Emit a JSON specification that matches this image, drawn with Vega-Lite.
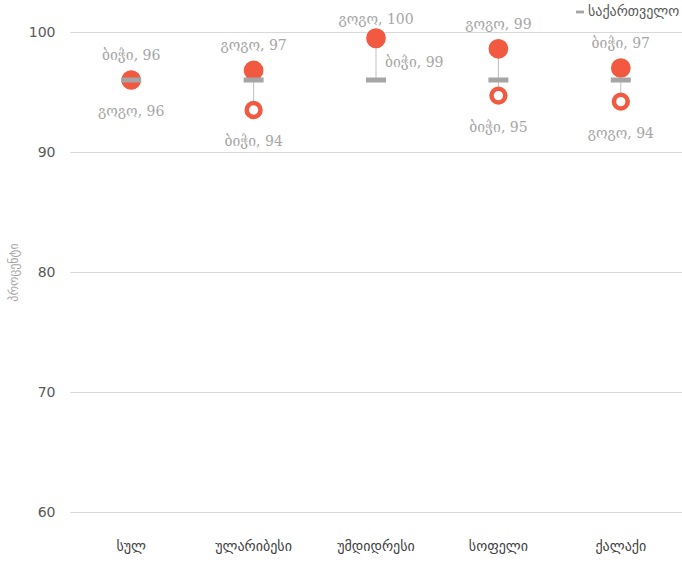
{
  "$schema": "https://vega.github.io/schema/vega-lite/v6.json",
  "autosize": {"type": "none"},
  "padding": {"left": 70, "top": 32, "right": 0, "bottom": 50},
  "width": 612,
  "height": 480,
  "background": "white",
  "config": {"view": {"stroke": null}},
  "data": {
    "values": [
      {"category": "სულ", "group": "ბიჭი", "role": "high", "value": 96},
      {"category": "სულ", "group": "გოგო", "role": "low", "value": 96},
      {"category": "სულ", "group": "საქართველო", "role": "national", "value": 96},
      {"category": "ულარიბესი", "group": "გოგო", "role": "high", "value": 96.8},
      {"category": "ულარიბესი", "group": "ბიჭი", "role": "low", "value": 93.5},
      {"category": "ულარიბესი", "group": "საქართველო", "role": "national", "value": 96},
      {"category": "უმდიდრესი", "group": "გოგო", "role": "high", "value": 99.5},
      {"category": "უმდიდრესი", "group": "ბიჭი", "role": "low", "value": 99.4},
      {"category": "უმდიდრესი", "group": "საქართველო", "role": "national", "value": 96},
      {"category": "სოფელი", "group": "გოგო", "role": "high", "value": 98.6},
      {"category": "სოფელი", "group": "ბიჭი", "role": "low", "value": 94.7},
      {"category": "სოფელი", "group": "საქართველო", "role": "national", "value": 96},
      {"category": "ქალაქი", "group": "ბიჭი", "role": "high", "value": 97},
      {"category": "ქალაქი", "group": "გოგო", "role": "low", "value": 94.2},
      {"category": "ქალაქი", "group": "საქართველო", "role": "national", "value": 96}
    ]
  },
  "transform": [
    {"calculate": "datum.group + ', ' + round(datum.value)", "as": "label"}
  ],
  "encoding": {
    "x": {
      "field": "category", "type": "nominal", "sort": null,
      "scale": {"paddingInner": 0, "paddingOuter": 0},
      "axis": {
        "title": null, "domain": false, "ticks": false, "labelAngle": 0,
        "labelPadding": 27, "labelFont": "DejaVu Sans", "labelFontSize": 14,
        "labelColor": "#404040"
      }
    },
    "y": {
      "field": "value", "type": "quantitative",
      "scale": {"domain": [60, 100], "nice": false, "zero": false},
      "axis": {
        "title": "პროცენტი", "titleFont": "DejaVu Sans", "titleFontSize": 12,
        "titleFontWeight": "normal", "titleColor": "#a6a6a6", "titlePadding": 8,
        "values": [60, 70, 80, 90, 100], "domain": false, "ticks": false,
        "labelPadding": 15, "labelFont": "DejaVu Sans", "labelFontSize": 14,
        "labelColor": "#595959", "gridColor": "#d9d9d9", "gridWidth": 1
      }
    }
  },
  "layer": [
    {
      "transform": [
        {"aggregate": [{"op": "min", "field": "value", "as": "lo"}, {"op": "max", "field": "value", "as": "hi"}], "groupby": ["category"]}
      ],
      "mark": {"type": "rule", "color": "#bfbfbf", "strokeWidth": 1},
      "encoding": {
        "y": {"field": "lo", "type": "quantitative"},
        "y2": {"field": "hi"}
      }
    },
    {
      "transform": [{"filter": "datum.role === 'low'"}],
      "mark": {"type": "point", "shape": "circle", "filled": false, "fill": "white", "stroke": "#f15a40", "strokeWidth": 4.5, "size": 190, "opacity": 1}
    },
    {
      "transform": [{"filter": "datum.role === 'high'"}],
      "mark": {"type": "point", "shape": "circle", "filled": true, "color": "#f15a40", "size": 390, "opacity": 1}
    },
    {
      "transform": [{"filter": "datum.role === 'national'"}],
      "mark": {"type": "tick", "orient": "horizontal", "size": 20, "thickness": 5, "opacity": 1},
      "encoding": {
        "color": {
          "field": "group", "type": "nominal",
          "scale": {"range": ["#a5a5a5"]},
          "legend": {
            "title": null, "orient": "none", "legendX": 503, "legendY": -27,
            "symbolType": "M-1,-0.35H1V0.35H-1Z", "symbolSize": 64, "symbolOpacity": 1,
            "labelFont": "DejaVu Sans", "labelFontSize": 14, "labelColor": "#595959",
            "labelOffset": 1, "padding": 0
          }
        }
      }
    },
    {
      "transform": [{"filter": "datum.role === 'high' && datum.category !== 'უმდიდრესი'"}],
      "mark": {"type": "text", "dy": -24, "font": "DejaVu Serif", "fontSize": 14, "color": "#a6a6a6"},
      "encoding": {"text": {"field": "label"}}
    },
    {
      "transform": [{"filter": "datum.role === 'high' && datum.category === 'უმდიდრესი'"}],
      "mark": {"type": "text", "dy": -18, "font": "DejaVu Serif", "fontSize": 14, "color": "#a6a6a6"},
      "encoding": {"text": {"field": "label"}}
    },
    {
      "transform": [{"filter": "datum.role === 'low' && datum.category !== 'უმდიდრესი'"}],
      "mark": {"type": "text", "dy": 32, "font": "DejaVu Serif", "fontSize": 14, "color": "#a6a6a6"},
      "encoding": {"text": {"field": "label"}}
    },
    {
      "transform": [{"filter": "datum.role === 'low' && datum.category === 'უმდიდრესი'"}],
      "mark": {"type": "text", "align": "left", "dx": 9, "dy": 24, "font": "DejaVu Serif", "fontSize": 14, "color": "#a6a6a6"},
      "encoding": {"text": {"field": "label"}}
    }
  ]
}
